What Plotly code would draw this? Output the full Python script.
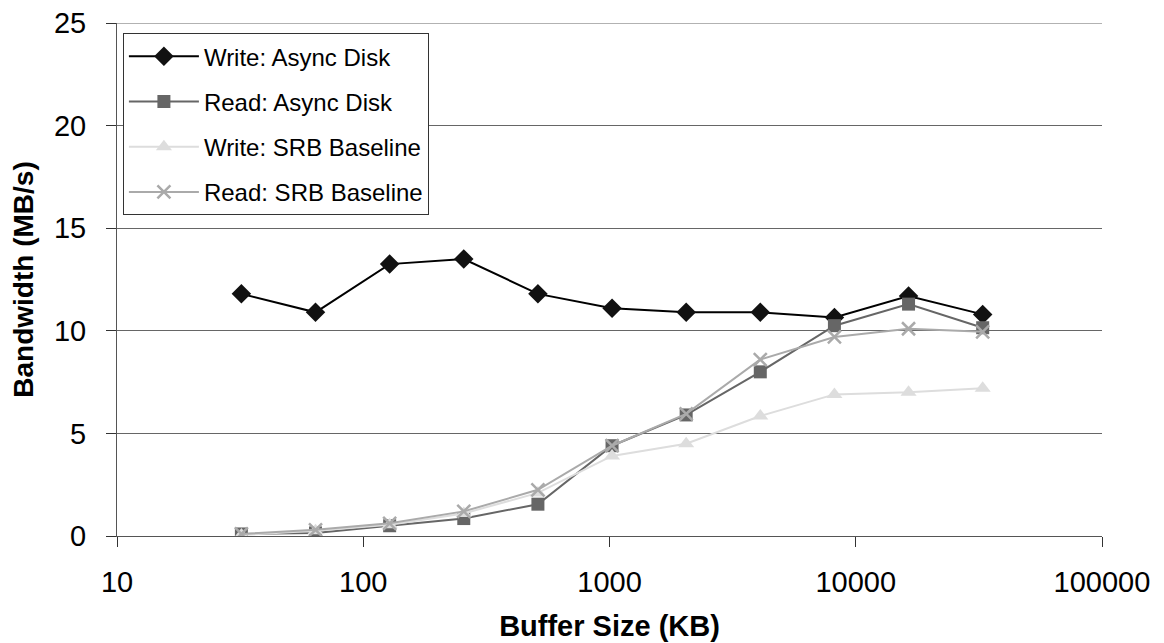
import plotly.graph_objects as go

buffer_kb = [32, 64, 128, 256, 512, 1024, 2048, 4096, 8192, 16384, 32768]
write_async = [11.8, 10.9, 13.25, 13.5, 11.8, 11.1, 10.9, 10.9, 10.65, 11.7, 10.8]
read_async = [0.1, 0.15, 0.5, 0.85, 1.55, 4.4, 5.9, 8.0, 10.25, 11.3, 10.15]
write_srb = [0.05, 0.25, 0.55, 1.1, 2.1, 3.9, 4.5, 5.85, 6.9, 7.0, 7.2]
read_srb = [0.1, 0.3, 0.62, 1.2, 2.25, 4.4, 5.95, 8.6, 9.7, 10.1, 9.95]

x_tickvals = [10, 100, 1000, 10000, 100000]
x_ticktext = ["10", "100", "1000", "10000", "100000"]
y_tickvals = [0, 5, 10, 15, 20, 25]
y_max = 25

FONT = "Arial, Liberation Sans, sans-serif"

series = [
    ("Write: Async Disk", write_async, "#000000", "#111111", "diamond", 15),
    ("Read: Async Disk", read_async, "#666666", "#666666", "square", 13),
    ("Write: SRB Baseline", write_srb, "#DDDDDD", "#DDDDDD", "triangle-up", 14),
    ("Read: SRB Baseline", read_srb, "#AAAAAA", "#AAAAAA", "x-thin", 13),
]

fig = go.Figure()
for i, (name, vals, lc, mc, sym, sz) in enumerate(series):
    marker = dict(symbol=sym, size=sz, color=mc)
    if sym == "x-thin":
        marker["line"] = dict(color=mc, width=2.5)
    fig.add_trace(go.Scatter(
        x=buffer_kb, y=vals, name=name, mode="lines+markers",
        line=dict(color=lc, width=2),
        marker=marker,
        legendgroup=f"g{i}",
    ))

# top gridline at the upper edge of the plot
fig.add_shape(type="line", xref="paper", x0=0, x1=1, yref="y", y0=y_max, y1=y_max,
              line=dict(color="#666666", width=1), layer="below")

fig.update_layout(
    width=1164, height=643,
    margin=dict(l=109, r=70, t=15, b=115, autoexpand=False),
    paper_bgcolor="white", plot_bgcolor="white",
    font=dict(family=FONT, color="black"),
    showlegend=True,
    legend=dict(
        x=0.006, y=0.98, xanchor="left", yanchor="top",
        bgcolor="white", bordercolor="#333333", borderwidth=1,
        font=dict(size=24, family=FONT, color="black"),
        tracegroupgap=11, itemwidth=70,
    ),
)

fig.update_xaxes(
    type="log", range=[1, 5],
    tickvals=x_tickvals, ticktext=x_ticktext,
    ticks="outside", ticklen=10, tickcolor="#333333",
    showline=True, linecolor="#555555", linewidth=1,
    showgrid=False, zeroline=False, automargin=False,
    tickfont=dict(size=29, family=FONT, color="black"),
    ticklabelstandoff=10, ticklabeloverflow="allow",
    title=dict(text="<b>Buffer Size (KB)</b>", font=dict(size=29, family=FONT, color="black"), standoff=18),
)
fig.update_yaxes(
    range=[0, y_max], tickvals=y_tickvals,
    ticks="outside", ticklen=10, tickcolor="#333333",
    showline=True, linecolor="#555555", linewidth=1,
    showgrid=True, gridcolor="#666666", gridwidth=1,
    zeroline=False, automargin=False,
    tickfont=dict(size=29, family=FONT, color="black"),
    ticklabelstandoff=14, ticklabeloverflow="allow",
    title=dict(text="<b>Bandwidth (MB/s)</b>", font=dict(size=28, family=FONT, color="black"), standoff=14),
)

fig.write_html("out.html")
